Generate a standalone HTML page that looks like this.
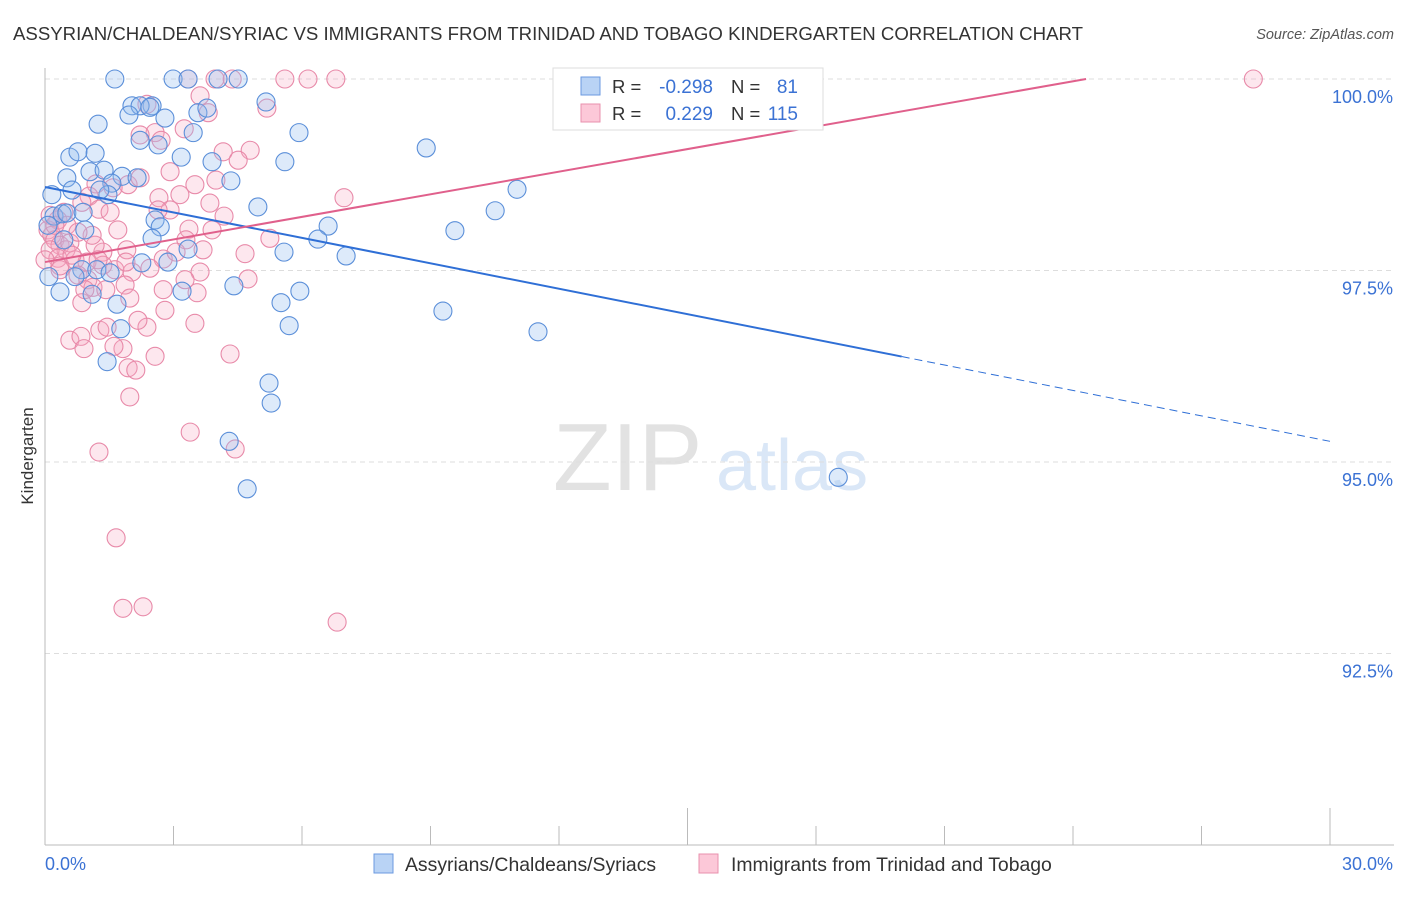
<!DOCTYPE html>
<html><head><meta charset="utf-8"><style>
body{margin:0;background:#fff;font-family:"Liberation Sans",sans-serif;}
svg text{font-family:"Liberation Sans",sans-serif;}
</style></head><body>
<svg id="chart" width="1406" height="892" viewBox="0 0 1406 892" xmlns="http://www.w3.org/2000/svg">
<text x="13" y="40" font-size="18.6" fill="#333" textLength="1070" lengthAdjust="spacingAndGlyphs">ASSYRIAN/CHALDEAN/SYRIAC VS IMMIGRANTS FROM TRINIDAD AND TOBAGO KINDERGARTEN CORRELATION CHART</text>
<text x="1394" y="39" font-size="14.5" fill="#555" font-style="italic" text-anchor="end">Source: ZipAtlas.com</text>
<g>
<text x="553" y="490" font-size="96" fill="#e2e2e2" font-family="Liberation Serif,serif">ZIP</text>
<text x="716" y="490" font-size="72" fill="#dae7f7">atlas</text>
</g>
<g id="grid"></g>
<g id="axes"></g>
<g id="pts"></g>
<g id="lines"></g>
<text transform="translate(33,456) rotate(-90)" font-size="17" fill="#333" text-anchor="middle">Kindergarten</text>
<g>
<rect x="553" y="68" width="270" height="62" fill="#fff" stroke="#ddd"/>
<rect x="581" y="77" width="19" height="18" fill="#b9d3f5" stroke="#6b9ae0"/>
<rect x="581" y="104" width="19" height="18" fill="#fcc8d8" stroke="#e891ae"/>
<text x="612" y="93" font-size="18.5" fill="#333">R =</text>
<text x="713" y="93" font-size="19" fill="#3b72d4" text-anchor="end">-0.298</text>
<text x="731" y="93" font-size="18.5" fill="#333">N =</text>
<text x="798" y="93" font-size="19" fill="#3b72d4" text-anchor="end">81</text>
<text x="612" y="120" font-size="18.5" fill="#333">R =</text>
<text x="713" y="120" font-size="19" fill="#3b72d4" text-anchor="end">0.229</text>
<text x="731" y="120" font-size="18.5" fill="#333">N =</text>
<text x="798" y="120" font-size="19" fill="#3b72d4" text-anchor="end">115</text>
</g>
<g>
<rect x="374" y="854" width="19" height="19" fill="#b9d3f5" stroke="#6b9ae0"/>
<text x="405" y="871" font-size="19.4" fill="#333">Assyrians/Chaldeans/Syriacs</text>
<rect x="699" y="854" width="19" height="19" fill="#fcc8d8" stroke="#e891ae"/>
<text x="731" y="871" font-size="19.4" fill="#333">Immigrants from Trinidad and Tobago</text>
</g>
</svg>
<script>
const xTicks=[0,3,6,9,12,15,18,21,24,27,30];
const yTicks=[100,97.5,95,92.5];
const yTickLabels=["100.0%","97.5%","95.0%","92.5%"];
const xTickLabels=["0.0%","30.0%"];
const blueX=[1.63,2.99,3.34,4.04,4.51,2.03,2.50,2.22,5.16,1.96,2.80,1.24,3.57,3.78,3.46,5.93,2.22,2.64,0.58,0.77,1.17,3.18,3.90,5.60,8.90,0.51,1.05,1.38,1.80,2.15,1.56,4.34,0.63,0.16,1.47,4.97,11.02,10.51,0.21,0.40,0.51,0.89,2.57,2.69,6.61,9.57,0.93,2.50,6.37,3.34,5.58,7.03,2.26,2.87,0.86,1.21,0.70,0.09,0.35,1.10,3.20,4.41,5.95,1.68,5.51,1.77,5.70,9.29,11.51,1.45,5.23,5.28,4.30,4.72,18.52,0.07,1.52,2.45,0.44,1.28];
const blueY=[100,100,100,100,100,99.65,99.65,99.65,99.70,99.53,99.49,99.41,99.56,99.62,99.30,99.30,99.20,99.14,98.98,99.05,99.03,98.98,98.92,98.92,99.10,98.71,98.79,98.81,98.73,98.71,98.64,98.67,98.55,98.49,98.49,98.33,98.56,98.28,98.21,98.24,98.25,98.26,98.16,98.07,98.08,98.02,98.03,97.92,97.91,97.78,97.74,97.69,97.60,97.61,97.51,97.51,97.42,97.42,97.22,97.19,97.23,97.30,97.23,97.06,97.08,96.74,96.78,96.97,96.70,96.31,96.03,95.77,95.27,94.65,94.80,98.09,97.47,99.63,97.90,98.55];
const pinkX=[3.34,3.97,4.37,5.60,6.14,6.79,28.21,3.62,5.18,2.38,3.81,3.25,2.57,2.22,2.71,4.16,4.79,2.92,1.19,1.94,1.59,2.66,6.98,3.85,1.03,0.86,1.26,2.92,4.18,0.44,0.30,1.52,3.36,3.90,0.07,0.16,0.23,0.35,0.49,0.58,0.12,0.30,0.70,0.98,1.35,1.91,3.29,5.25,4.67,2.76,1.63,2.03,1.89,3.62,0.77,1.00,1.35,0.35,1.87,2.76,3.55,4.74,0.86,1.12,1.98,2.80,3.50,1.28,1.45,0.58,0.84,2.38,0.91,1.82,1.61,2.57,4.32,1.94,2.12,1.98,3.39,1.26,4.44,1.66,1.82,2.29,6.82,0.35,0.63,1.17,1.70,2.45,3.06,3.27,0.12,0.51,1.10,1.42,2.17,2.64,3.15,3.50,3.99,4.51,3.69,0,0.23,0.77,1.24,2.22,0.93];
const pinkY=[100,100,100,100,100,100,100,99.78,99.62,99.67,99.56,99.35,99.30,99.27,99.20,99.05,99.07,98.79,98.63,98.62,98.58,98.45,98.45,98.38,98.47,98.39,98.30,98.29,98.21,98.26,98.16,98.26,98.04,98.03,98.03,97.96,97.90,97.83,97.77,97.86,97.77,97.66,97.64,97.61,97.74,97.77,97.90,97.92,97.72,97.65,97.51,97.48,97.61,97.48,97.44,97.38,97.57,97.51,97.31,97.25,97.21,97.39,97.08,97.28,97.14,96.98,96.81,96.72,96.76,96.59,96.64,96.76,96.48,96.48,96.51,96.38,96.41,96.23,96.20,95.85,95.39,95.13,95.17,94.01,93.09,93.11,92.91,97.56,97.70,97.83,98.03,97.53,97.74,97.38,98.22,98.09,97.96,97.25,96.85,98.29,98.49,98.62,98.68,98.94,97.77,97.64,98.09,98.00,97.64,98.71,97.25];
const blueTrend=[98.59,95.27];
const pinkTrend=[97.61,100.56];
const NS="http://www.w3.org/2000/svg";
const X=v=>45+v/30*1285;
const Y=v=>79+(100-v)/2.5*191.5;
function mk(tag,attrs,parent){const e=document.createElementNS(NS,tag);for(const k in attrs)e.setAttribute(k,attrs[k]);parent.appendChild(e);return e;}
const grid=document.getElementById('grid'),axes=document.getElementById('axes'),pts=document.getElementById('pts'),lines=document.getElementById('lines');
yTicks.forEach((t,i)=>{
 const l=mk('line',{x1:45,x2:1394,y1:Y(t),y2:Y(t),stroke:'#ddd','stroke-dasharray':'5,4'},grid);
 
 
 const tx=mk('text',{x:1393,y:Y(t)+24,'font-size':18,fill:'#3b72d4','text-anchor':'end'},axes);
 tx.textContent=yTickLabels[i];
 
 
});
const ax=mk('line',{x1:45,x2:1394,y1:845,y2:845,stroke:'#bbb'},axes);


const ay=mk('line',{x1:45,x2:45,y1:68,y2:845,stroke:'#bbb'},axes);


xTicks.forEach((t,i)=>{
 const big=(i===0||i===5||i===10);
 const l=mk('line',{x1:X(t),x2:X(t),y1:big?808:826,y2:845,stroke:'#bbb'},axes);
 
 
});
[[0,'start'],[30,'end']].forEach((p,i)=>{
 const tx=mk('text',{x:X(p[0])+(i?63:0),y:870,'font-size':18,fill:'#3b72d4','text-anchor':p[1]},axes);
 tx.textContent=xTickLabels[i];
 
 
});
pinkX.forEach((v,i)=>{
 const c=mk('circle',{cx:X(v),cy:Y(pinkY[i]),r:9,fill:'rgba(248,170,195,0.28)',stroke:'#e88aa9','stroke-width':1.1},pts);
 
 
});
blueX.forEach((v,i)=>{
 const c=mk('circle',{cx:X(v),cy:Y(blueY[i]),r:9,fill:'rgba(150,190,240,0.32)',stroke:'#5b8fd9','stroke-width':1.1},pts);
 
 
});
const bAt=x=>blueTrend[0]+(blueTrend[1]-blueTrend[0])*x/30;
const b1=mk('line',{x1:X(0),y1:Y(bAt(0)),x2:X(20),y2:Y(bAt(20)),stroke:'#2f6fd6','stroke-width':2},lines);


const b2=mk('line',{x1:X(20),y1:Y(bAt(20)),x2:X(30),y2:Y(bAt(30)),stroke:'#2f6fd6','stroke-width':1,'stroke-dasharray':'8,5'},lines);


const pEnd=30*(100-pinkTrend[0])/(pinkTrend[1]-pinkTrend[0]);
const p1=mk('line',{x1:X(0),y1:Y(pinkTrend[0]),x2:X(pEnd),y2:Y(100),stroke:'#e0608c','stroke-width':2},lines);


</script>
</body></html>
